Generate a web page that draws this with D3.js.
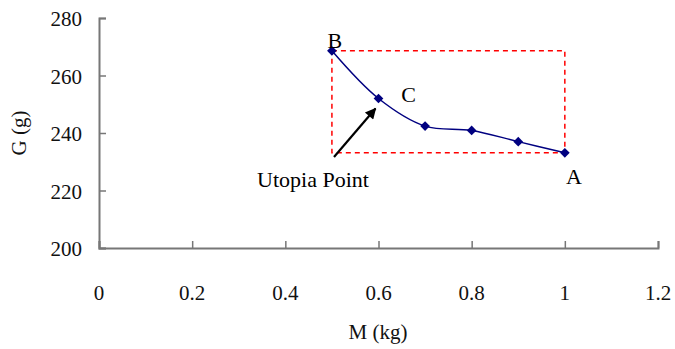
<!DOCTYPE html>
<html>
<head>
<meta charset="utf-8">
<script src="https://cdn.jsdelivr.net/npm/d3@7"></script>
<style>
  body { margin: 0; background: #fff; }
</style>
</head>
<body>
<div id="chart"></div>
<script>
// values
var massKg = [0.5, 0.6, 0.7, 0.8, 0.9, 1.0];
var gramsG = [268.6, 252.0, 242.4, 240.9, 237.0, 233.1];
var xTicks = [0, 0.2, 0.4, 0.6, 0.8, 1, 1.2];
var yTicks = [200, 220, 240, 260, 280];
var pointNames = ["B", "C", "A"];

var W = 675, H = 349;
var margin = {top: 18, right: 17, bottom: 101, left: 99};
var serif = "Liberation Serif";

var svg = d3.select("#chart").append("svg")
    .attr("width", W).attr("height", H);

var x = d3.scaleLinear().domain([0, 1.2]).range([margin.left, W - margin.right]);
var y = d3.scaleLinear().domain([200, 280]).range([H - margin.bottom, margin.top]);

// y axis, ticks pointing inside
var yAxis = svg.append("g")
    .attr("transform", "translate(" + x(0) + ",0)")
    .call(d3.axisRight(y).tickValues(yTicks).tickSize(7).tickFormat(""));
yAxis.select(".domain").attr("stroke", "#777").attr("stroke-width", 2);
yAxis.selectAll(".tick line").attr("stroke", "#777").attr("stroke-width", 1.5);

svg.selectAll(".ylab").data(yTicks).enter().append("text")
    .style("font-family", serif)
    .attr("x", 82).attr("y", function (d) { return y(d) + 8; })
    .attr("text-anchor", "end").attr("font-size", 21).attr("fill", "#111")
    .text(function (d) { return d; });

// x axis, ticks pointing up
var xAxis = svg.append("g")
    .attr("transform", "translate(0," + y(200) + ")")
    .call(d3.axisTop(x).tickValues(xTicks).tickSize(7).tickFormat(""));
xAxis.select(".domain").attr("stroke", "#777").attr("stroke-width", 2);
xAxis.selectAll(".tick line").attr("stroke", "#777").attr("stroke-width", 1.5);

svg.selectAll(".xlab").data(xTicks).enter().append("text")
    .style("font-family", serif)
    .attr("x", function (d) { return x(d); }).attr("y", 300)
    .attr("text-anchor", "middle").attr("font-size", 21).attr("fill", "#111")
    .text(function (d) { return d; });

// axis titles
svg.append("text")
    .style("font-family", serif)
    .attr("transform", "translate(26,133) rotate(-90)")
    .attr("text-anchor", "middle").attr("font-size", 21).attr("fill", "#111")
    .text("G (g)");
svg.append("text")
    .style("font-family", serif)
    .attr("x", 378).attr("y", 339)
    .attr("text-anchor", "middle").attr("font-size", 21).attr("fill", "#111")
    .text("M (kg)");

// dashed box between extreme points
var first = 0, last = massKg.length - 1;
svg.append("rect")
    .attr("x", x(massKg[first])).attr("y", y(gramsG[first]))
    .attr("width", x(massKg[last]) - x(massKg[first]))
    .attr("height", y(gramsG[last]) - y(gramsG[first]))
    .attr("fill", "none").attr("stroke", "#ff0000")
    .attr("stroke-width", 1.5).attr("stroke-dasharray", "5,4");

// the curve
var pts = massKg.map(function (m, i) { return [m, gramsG[i]]; });
svg.append("path")
    .datum(pts)
    .attr("fill", "none").attr("stroke", "#000080").attr("stroke-width", 1.5)
    .attr("d", d3.line()
        .x(function (d) { return x(d[0]); })
        .y(function (d) { return y(d[1]); })
        .curve(d3.curveCatmullRom.alpha(0.5)));

svg.selectAll(".pt").data(pts).enter().append("path")
    .attr("transform", function (d) { return "translate(" + x(d[0]) + "," + y(d[1]) + ")"; })
    .attr("d", d3.symbol().type(d3.symbolDiamond2).size(60))
    .attr("fill", "#000080");

// labels B, C, A
var labelPos = [[0.5, 268.6, 3, -3], [0.6, 252.0, 30, 3], [1.0, 233.1, 9, 31]];
svg.selectAll(".nm").data(labelPos).enter().append("text")
    .style("font-family", serif)
    .attr("x", function (d) { return x(d[0]) + d[2]; })
    .attr("y", function (d) { return y(d[1]) + d[3]; })
    .attr("text-anchor", "middle").attr("font-size", 22).attr("fill", "#000")
    .text(function (d, i) { return pointNames[i]; });

// arrow to the utopia point
svg.append("defs").append("marker")
    .attr("id", "head").attr("viewBox", "0 0 10 10")
    .attr("refX", 9).attr("refY", 5)
    .attr("markerWidth", 6).attr("markerHeight", 5)
    .attr("markerUnits", "strokeWidth")
    .attr("orient", "auto")
    .append("path").attr("d", "M0,0L10,5L0,10Z").attr("fill", "#000");

svg.append("line")
    .attr("x1", 334).attr("y1", 157)
    .attr("x2", x(0.6) - 3).attr("y2", y(252) + 10)
    .attr("stroke", "#000").attr("stroke-width", 2.2)
    .attr("marker-end", "url(#head)");

svg.append("text")
    .style("font-family", serif)
    .attr("x", 313).attr("y", 187)
    .attr("text-anchor", "middle").attr("font-size", 22).attr("fill", "#000")
    .text("Utopia Point");
</script>
</body>
</html>
